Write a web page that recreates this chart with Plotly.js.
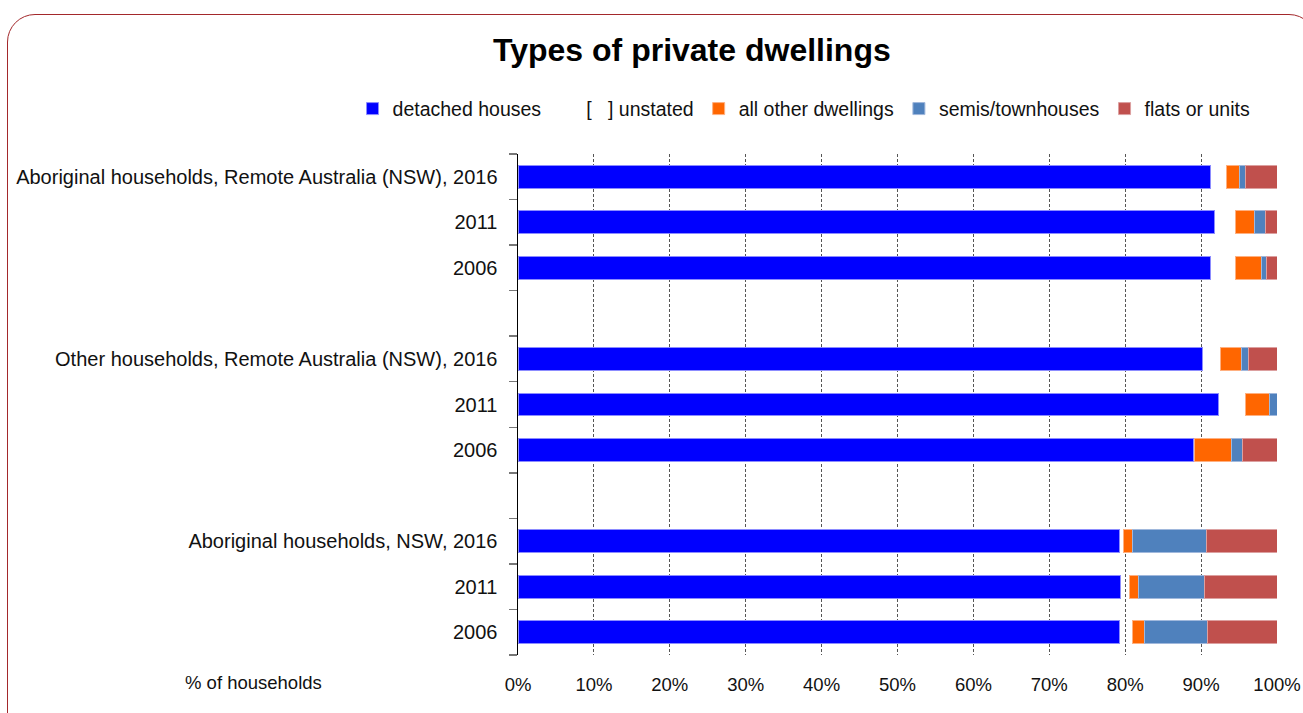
<!DOCTYPE html>
<html>
<head>
<meta charset="utf-8">
<script src="https://cdn.plot.ly/plotly-3.0.1.min.js"></script>
<style>
  html, body { margin: 0; padding: 0; background: #fff; }
  #wrap { position: relative; width: 1303px; height: 713px; overflow: hidden; }
  #chart { position: absolute; left: 0; top: 0; width: 1303px; height: 713px; }
  #frame { position: absolute; left: 7px; top: 14px; width: 1310px; height: 760px;
           border: 1.5px solid #a3282b; border-radius: 28px; pointer-events: none; box-sizing: border-box; }
</style>
</head>
<body>
<div id="wrap">
  <div id="chart"></div>
  <div id="frame"></div>
</div>
<script>
// Categories (top to bottom); empty strings are spacer rows
const categories = [
  "Aboriginal households, Remote Australia (NSW), 2016",
  "2011",
  "2006",
  "",
  "Other households, Remote Australia (NSW), 2016",
  "2011",
  "2006",
  "",
  "Aboriginal households, NSW, 2016",
  "2011",
  "2006"
];

const seriesNames = ["detached houses", "[   ] unstated", "all other dwellings", "semis/townhouses", "flats or units"];

// Values in % of households (null for spacer rows)
const detached   = [91.2, 91.7, 91.3, null, 90.2, 92.3, 89.0, null, 79.2, 79.4, 79.2];
const unstated   = [ 2.1,  2.8,  3.2, null,  2.3,  3.5,  0.1, null,  0.6,  1.2,  1.8];
const otherDw    = [ 1.7,  2.6,  3.4, null,  2.8,  3.2,  4.9, null,  1.2,  1.1,  1.6];
const semis      = [ 0.8,  1.4,  0.7, null,  1.0,  1.0,  1.5, null,  9.7,  8.7,  8.2];
const flats      = [ 4.2,  1.5,  1.4, null,  3.7,  0.0,  4.5, null,  9.3,  9.6,  9.2];

const xTickVals = [0, 10, 20, 30, 40, 50, 60, 70, 80, 90, 100];
const xTickText = ["0%", "10%", "20%", "30%", "40%", "50%", "60%", "70%", "80%", "90%", "100%"];

const yIdx = categories.map((_, i) => i);
const boundaries = categories.map((_, i) => i - 0.5).concat([categories.length - 0.5]);

const colors = ["#0000ff", "rgba(255,255,255,0)", "#ff6600", "#4f81bd", "#c0504d"];
const lineColors = ["#8c8cff", "rgba(255,255,255,0)", "#ffb080", "#a0b8dc", "#dca0a0"];
const seriesData = [detached, unstated, otherDw, semis, flats];

const traces = seriesData.map((vals, k) => ({
  type: "bar",
  orientation: "h",
  name: seriesNames[k],
  x: vals,
  y: yIdx,
  marker: { color: colors[k], line: { color: lineColors[k], width: 1 } },
  hoverinfo: "x+name"
}));

const FONT = "Liberation Sans";

const layout = {
  width: 1303,
  height: 713,
  paper_bgcolor: "#ffffff",
  plot_bgcolor: "#ffffff",
  font: { family: FONT, size: 20, color: "#111" },
  margin: { l: 518, r: 26, t: 154, b: 58, pad: 0 },
  barmode: "stack",
  bargap: 0.5,
  showlegend: true,
  title: {
    text: "<b>Types of private dwellings</b>",
    font: { family: FONT, size: 32, color: "#000" },
    x: 0.531, xanchor: "center",
    y: 0.93, yanchor: "middle"
  },
  legend: {
    orientation: "h",
    xref: "paper",
    yref: "paper",
    x: -0.218, xanchor: "left",
    y: 1.09, yanchor: "middle",
    traceorder: "normal",
    font: { family: FONT, size: 19.5, color: "#111" },
    itemwidth: 30,
    bgcolor: "rgba(0,0,0,0)"
  },
  xaxis: {
    range: [0, 100],
    tickvals: xTickVals,
    ticktext: xTickText,
    ticks: "",
    showline: false,
    zeroline: false,
    showgrid: true,
    gridcolor: "#555555",
    gridwidth: 1,
    griddash: "3px,2px",
    tickfont: { family: FONT, size: 18.5, color: "#111" },
    ticklabelstandoff: 16,
    fixedrange: true
  },
  yaxis: {
    range: [categories.length - 0.5, -0.5],
    tickvals: yIdx,
    ticktext: categories,
    ticks: "",
    showline: true,
    linecolor: "#000",
    linewidth: 1.5,
    showgrid: false,
    zeroline: false,
    tickfont: { family: FONT, size: 20, color: "#111" },
    ticklabelstandoff: 15,
    minor: {
      tickmode: "array",
      tickvals: boundaries,
      ticks: "outside",
      ticklen: 8,
      tickcolor: "#777",
      tickwidth: 1.5,
      showgrid: false
    },
    fixedrange: true
  },
  annotations: [{
    text: "% of households",
    xref: "paper", yref: "paper",
    x: -0.349, y: -0.054,
    xanchor: "center", yanchor: "middle",
    showarrow: false,
    font: { family: FONT, size: 18.5, color: "#111" }
  }]
};

Plotly.newPlot("chart", traces, layout, { displayModeBar: false, staticPlot: true });
</script>
</body>
</html>
